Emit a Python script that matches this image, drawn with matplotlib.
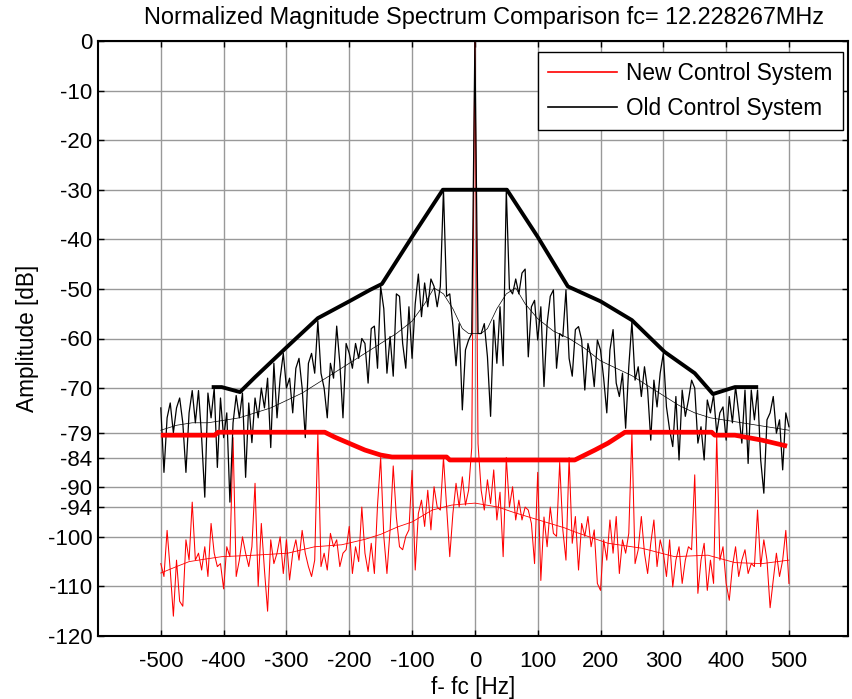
import numpy as np
import matplotlib
matplotlib.use("Agg")
import matplotlib.pyplot as plt

plt.rcParams['font.family'] = ['Liberation Sans', 'DejaVu Sans']
plt.rcParams['axes.unicode_minus'] = False

# spectrum bins, 5 Hz apart, -500 .. 500 Hz around the carrier
freq = np.arange(-500, 501, 5)

# old control system, raw spectrum [dB]
old_db = [
    -74, -87, -76, -73, -79, -74, -72, -77, -87, -75,
    -70.5, -77, -70.5, -80, -92, -71, -76, -70, -86, -72,
    -80, -75, -93, -77, -71.5, -76, -71, -88, -73, -81,
    -72, -76, -70, -74, -68, -82, -65, -76, -68, -63,
    -70, -68, -75, -66, -64, -70, -80, -65, -63, -67,
    -56.5, -67, -70, -76, -65, -68, -57.5, -65, -76, -61,
    -63, -66, -61, -64, -60, -61, -69, -58, -57.5, -66,
    -49.5, -54, -67, -59.6, -67.6, -51, -51.5, -61, -66, -53.6,
    -64, -53, -47, -55.6, -48.8, -53.6, -48, -49.5, -53.6, -49.5,
    -30, -51.5, -51, -57.5, -65.5, -57, -74.4, -62.3, -60.3, -59,
    0, -59, -59, -57, -63.7, -75.7, -56.3, -65, -53.6, -65.5,
    -30, -50, -51, -48, -51, -46.8, -46, -63.7, -53.6, -52.3,
    -60.3, -53.6, -69.7, -57, -51.5, -50.2, -66, -59, -59.6, -50.2,
    -64, -67.6, -58.2, -57.6, -60.3, -70.4, -61, -63.7, -69.7, -60.3,
    -62.3, -68, -75, -62.3, -58.2, -69, -71.7, -67, -78.1, -65.7,
    -56.6, -68.4, -65.7, -71.7, -65.7, -70.4, -80.5, -68.4, -73.8, -67,
    -63, -73.8, -78.4, -81.8, -71.7, -84.5, -70.4, -75.7, -72.4, -68.4,
    -70, -81.1, -77.8, -84.5, -72.4, -75, -71.4, -79.1, -75, -73.8,
    -80.5, -71.7, -77, -69.7, -75, -81.1, -70.4, -85.2, -70.4, -76.4,
    -70.4, -84.5, -91.2, -76.4, -75, -71.7, -79.1, -76.4, -86.5, -75,
    -77.8,
]

# new control system, raw spectrum [dB]
new_db = [
    -105.4, -108, -98.7, -106.7, -116, -104.7, -113, -114, -100.6, -104.7,
    -93, -104.7, -103.3, -106.7, -102, -108, -97.3, -103.3, -106, -105.4,
    -110.5, -102, -104, -80, -108, -104.7, -100, -103.3, -106, -102,
    -89.2, -110, -97.3, -106.7, -115, -100.6, -105.4, -103.3, -100, -107.4,
    -100.6, -108.7, -103.3, -100.6, -104.7, -98.7, -103.3, -106, -108, -104.7,
    -79, -106, -103.3, -106.7, -99.3, -102, -100.6, -106, -103.3, -102.6,
    -97.9, -107.4, -102, -105, -94, -103.3, -107, -101.3, -107.4, -93.6,
    -84, -99.9, -107.4, -98.6, -85.7, -96, -102, -102.6, -99.9, -98.6,
    -86.6, -106.7, -95.3, -92.6, -97.9, -90.6, -98.6, -89.9, -94, -94.6,
    -84, -94, -104, -95.3, -89.2, -94, -87.9, -93.6, -90.6, -82,
    0, -81.2, -90.6, -94.6, -88.5, -93.3, -86.5, -96.6, -91, -104,
    -84, -94, -89.9, -96.6, -92.6, -96.6, -94, -94.6, -97.3, -105.4,
    -87, -108.8, -96, -102, -94, -99.3, -99.9, -85, -98.6, -104.7,
    -84, -101.3, -95.9, -106.7, -97.3, -99.9, -95.9, -102, -98.6, -109.4,
    -110.8, -100.6, -104.7, -96.6, -103.3, -95.9, -107.4, -100.6, -103.3, -99.3,
    -79, -105.4, -102.6, -95.9, -103.3, -107.4, -101.3, -96.6, -106, -100.6,
    -103.3, -108, -100.6, -110.1, -104.7, -102, -109.4, -104.7, -102, -102.6,
    -87.5, -111.4, -104.7, -101.3, -110.8, -104.7, -109.4, -79.5, -104.7, -102,
    -109.4, -112.8, -106, -102, -108, -104.7, -102.6, -107.4, -105.4, -106,
    -94.6, -106, -100.6, -104.7, -114.3, -108.7, -103.3, -108, -104.7, -98.7,
    -109.4,
]

# smoothed (averaged) spectra
old_avg_f = [-500, -475, -450, -425, -400, -375, -350, -325, -300, -275, -250,
             -225, -200, -175, -150, -125, -100, -80, -65, -50, -35, -20, -10,
             10, 20, 35, 50, 65, 80, 100, 125, 150, 175, 200, 225, 250, 275,
             300, 325, 350, 375, 400, 425, 450, 475, 500]
old_avg_db = [-78.5, -77.5, -77, -77, -76.5, -76, -75, -74, -72.5, -71, -69,
              -67, -65, -63, -61, -59, -56.5, -53, -49.8, -51, -54, -58, -59,
              -59, -58, -54, -51, -49.8, -53, -56, -58.5, -60, -62, -64.5, -66,
              -67.5, -69.5, -71.5, -73.5, -75, -76, -76.5, -77, -77.5, -78, -78.5]

new_avg_f = [-500, -475, -455, -430, -403, -350, -298, -255, -212, -175, -150,
             -123, -100, -68, -37, 0, 37, 60, 91, 143, 159, 212, 266, 318, 371,
             414, 457, 500]
new_avg_db = [-107.3, -106, -105, -104.5, -104, -103.7, -103.3, -102, -101.6,
              -100.5, -99.5, -98, -97, -94.6, -93.6, -93.2, -94, -95, -96.2,
              -98.2, -99, -101.3, -102.3, -104, -103.7, -105.2, -105.4, -104.7]

# peak-hold envelopes
old_env_f = [-419, -403, -374, -350, -300, -250, -200, -167, -148, -100, -51,
             51, 100, 148, 200, 250, 302, 350, 379, 414, 451]
old_env_db = [-69.8, -69.8, -70.8, -67.8, -61.8, -55.9, -52.5, -50.2, -49, -39.5,
              -30, -30, -39.5, -49.5, -52.5, -56.3, -62.7, -67, -71.2, -69.8, -69.8]

new_env_f = [-500, -414, -409, -239, -223, -175, -150, -132, -45, -40, 159,
             191, 212, 239, 377, 382, 414, 457, 497]
new_env_db = [-79.5, -79.5, -78.9, -78.9, -79.9, -82.5, -83.5, -83.9, -83.9,
              -84.5, -84.5, -82.5, -81.1, -78.9, -78.9, -79.5, -79.5, -80.5, -81.7]

x_ticks = [-500, -400, -300, -200, -100, 0, 100, 200, 300, 400, 500]
y_ticks = [0, -10, -20, -30, -40, -50, -60, -70, -79, -84, -90, -94, -100, -110, -120]

fig = plt.figure(figsize=(8.52, 6.99), dpi=100)
ax = fig.add_axes([98 / 852, 63 / 699, 750 / 852, 595 / 699])

ax.plot(freq, new_db, color='red', lw=0.75, label='New Control System')
ax.plot(freq, old_db, color='black', lw=0.9, label='Old Control System')
ax.plot(new_avg_f, new_avg_db, color='red', lw=0.6)
ax.plot(old_avg_f, old_avg_db, color='black', lw=0.5)
ax.plot(new_env_f, new_env_db, color='red', lw=3.4, solid_capstyle='butt')
ax.plot(old_env_f, old_env_db, color='black', lw=2.8, solid_capstyle='butt')

ax.set_xlim(-600, 594)
ax.set_ylim(-120, 0)
ax.set_xticks(x_ticks)
ax.set_yticks(y_ticks)
ax.grid(True, color='0.6', lw=1.0)
ax.set_axisbelow(True)
ax.tick_params(direction='in', length=4, width=1, top=True, right=True,
               labelsize=16)
ax.tick_params(axis='x', pad=11)
ax.tick_params(axis='y', pad=4)
for s in ax.spines.values():
    s.set_linewidth(1.5)

ax.set_title('Normalized Magnitude Spectrum Comparison fc= 12.228267MHz',
             fontsize=16.9, pad=12, x=0.515)
ax.set_xlabel('f- fc [Hz]', fontsize=16.3, labelpad=3)
ax.set_ylabel('Amplitude [dB]', fontsize=16.3, labelpad=6)

leg = ax.legend(loc='upper right', bbox_to_anchor=(745 / 750, 1 - 11 / 595),
                borderaxespad=0, fontsize=16.3, fancybox=False, framealpha=1,
                edgecolor='black', handlelength=3.05, handletextpad=0.4,
                borderpad=0.45, labelspacing=0.5)
leg.get_frame().set_linewidth(1.0)
for h in leg.get_lines():
    h.set_linewidth(1.2)

fig.savefig('out.png', dpi=100)
